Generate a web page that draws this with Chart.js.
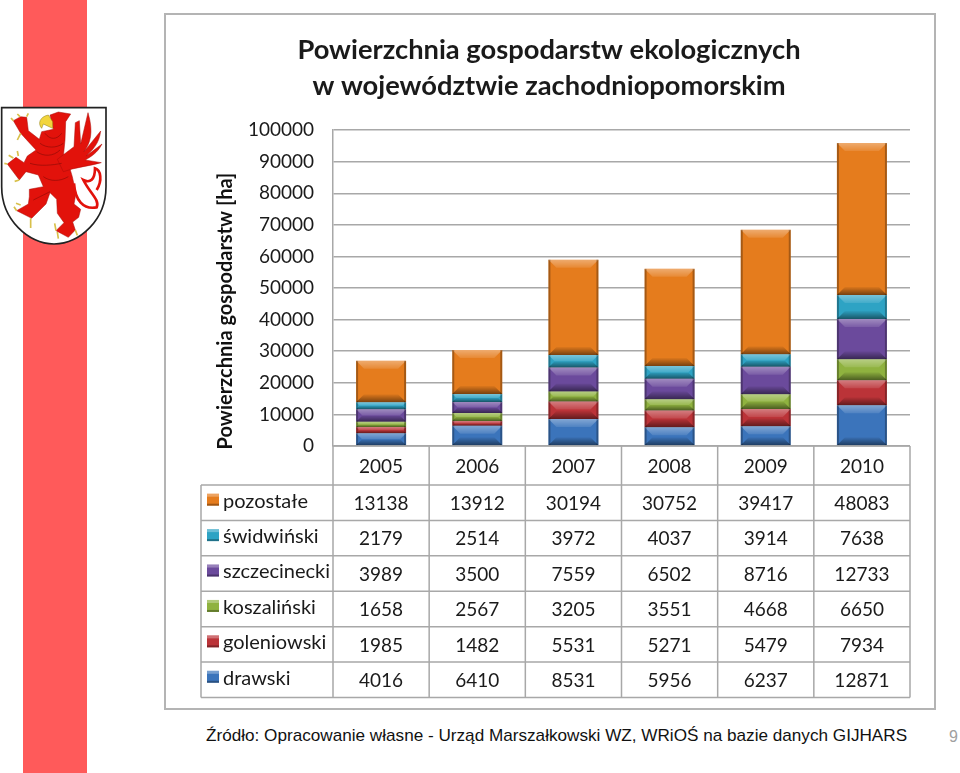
<!DOCTYPE html>
<html>
<head>
<meta charset="utf-8">
<script src="https://cdn.jsdelivr.net/npm/chart.js@4/dist/chart.umd.min.js"></script>
<style>
  html, body { margin: 0; padding: 0; background: #fff; }
  #page { position: relative; width: 960px; height: 773px; overflow: hidden; }
  #stripe { position: absolute; left: 23px; top: 0; width: 64px; height: 773px; background: #ff5a5a; }
  #herb { position: absolute; left: 0; top: 0; }
  #frame { position: absolute; left: 164px; top: 13px; width: 768px; height: 693px; border: 2px solid #b4b4b4; }
  #ecoChart { position: absolute; left: 166px; top: 15px; }
  #source { position: absolute; left: 206px; top: 725px; font: 17.15px "Liberation Sans", sans-serif; color: #111; white-space: nowrap; }
  #pageNo { position: absolute; left: 949px; top: 728px; font: 16px "Liberation Sans", sans-serif; color: #a0a0a0; }
</style>
</head>
<body>
<div id="page">
  <div id="stripe"></div>
  <svg id="herb" width="340" height="300" viewBox="0 0 1020 900">
    <path d="M5,323 H318 V560 C318,660 240,730 162,732 C85,730 5,660 5,560 Z" fill="#fff" stroke="#222" stroke-width="5"/>
    <g fill="#e2120b" stroke="#a80c08" stroke-width="1.5">
      <path d="M150,345 L175,336 L212,342 L197,365 L195,420 L190,470 L205,490 L217,530 L228,580 L222,612 L242,628 L236,652 L218,666 L226,690 L205,712 L168,692 L192,668 L172,640 L170,598 L150,578 L138,612 L95,655 L50,632 L85,612 L88,590 L88,568 L130,560 L115,525 L78,515 L58,540 L22,492 L48,472 L72,488 L82,468 L108,450 L85,425 L62,400 L40,362 L62,350 L80,352 L85,392 L118,418 L125,395 L160,388 Z"/>
      <path d="M172,478 L222,440 L226,368 L238,362 L242,432 L264,338 C282,400 270,430 252,455 L302,393 C298,430 278,450 258,468 L306,432 C292,460 272,470 256,480 L304,488 C270,498 225,502 190,515 Z"/>
    </g>
    <path fill="none" stroke="#e2120b" stroke-width="8" d="M222,550 C225,600 250,630 290,622 C300,600 270,580 250,540 C270,550 285,540 285,505 C302,510 308,540 290,570"/>
    <g fill="none" stroke="#8e0a06" stroke-width="2">
      <path d="M110,455 C130,470 160,470 180,450 M90,490 C120,500 160,495 185,490 M130,530 C150,545 180,545 205,530 M100,600 C120,590 140,580 150,575"/>
      <path d="M135,400 C150,420 170,420 185,400 M120,430 C140,445 170,445 190,430"/>
    </g>
    <path fill="#f2d53c" stroke="#8a7a10" stroke-width="1.5" d="M145,345 C120,350 112,370 125,385 L130,372 L158,385 L158,365 Z"/>
    <g fill="none" stroke="#d8c04a" stroke-width="5">
      <path d="M40,362 L33,354 M60,350 L52,342 M80,350 L85,340 M62,400 L52,420"/>
      <path d="M22,492 L13,490 M40,474 L26,466 M55,468 L52,453 M58,540 L44,544"/>
      <path d="M50,632 L42,620 M62,615 L48,610 M92,655 L92,684"/>
      <path d="M168,692 L164,670 M172,696 L175,716 M226,690 L232,706"/>
    </g>
  </svg>
  <div id="frame"></div>
  <canvas id="ecoChart" width="768" height="693"></canvas>
  <div id="source">Źródło: Opracowanie własne - Urząd Marszałkowski WZ, WRiOŚ na bazie danych GIJHARS</div>
  <div id="pageNo">9</div>
</div>
<script>
const years = ['2005', '2006', '2007', '2008', '2009', '2010'];

const drawski     = [4016, 6410, 8531, 5956, 6237, 12871];
const goleniowski = [1985, 1482, 5531, 5271, 5479, 7934];
const koszalinski = [1658, 2567, 3205, 3551, 4668, 6650];
const szczecinecki = [3989, 3500, 7559, 6502, 8716, 12733];
const swidwinski  = [2179, 2514, 3972, 4037, 3914, 7638];
const pozostale   = [13138, 13912, 30194, 30752, 39417, 48083];

const gridColor = '#a8a8a8';
const textFont = 'Lato, sans-serif';

// od dolu do gory, tabela rysowana w odwrotnej kolejnosci
const series = [
  { label: 'drawski', data: drawski, color: '#3b74bb' },
  { label: 'goleniowski', data: goleniowski, color: '#bb3338' },
  { label: 'koszaliński', data: koszalinski, color: '#8fb23f' },
  { label: 'szczecinecki', data: szczecinecki, color: '#6b4a9c' },
  { label: 'świdwiński', data: swidwinski, color: '#2ea3c4' },
  { label: 'pozostałe', data: pozostale, color: '#e57c1d' }
];

function bevel(c, x, y, w, h) {
  const size = Math.min(8, h / 2);
  let g = c.createLinearGradient(0, y, 0, y + size);
  g.addColorStop(0, 'rgba(255,255,255,0.36)');
  g.addColorStop(1, 'rgba(255,255,255,0.1)');
  c.fillStyle = g;
  c.beginPath();
  c.moveTo(x, y);
  c.lineTo(x + w, y);
  c.lineTo(x + w - size, y + size);
  c.lineTo(x + size, y + size);
  c.fill();
  g = c.createLinearGradient(0, y + h - size, 0, y + h);
  g.addColorStop(0, 'rgba(0,0,0,0.04)');
  g.addColorStop(1, 'rgba(0,0,0,0.48)');
  c.fillStyle = g;
  c.beginPath();
  c.moveTo(x, y + h);
  c.lineTo(x + w, y + h);
  c.lineTo(x + w - size, y + h - size);
  c.lineTo(x + size, y + h - size);
  c.fill();
  c.fillStyle = 'rgba(0,0,0,0.28)';
  c.fillRect(x, y, 2, h);
  c.fillRect(x + w - 2, y, 2, h);
}

const bevelPlugin = {
  id: 'bevel',
  afterDatasetsDraw(chart) {
    const c = chart.ctx;
    chart.data.datasets.forEach((ds, i) => {
      chart.getDatasetMeta(i).data.forEach(bar => {
        const w = bar.width;
        bevel(c, bar.x - w / 2, bar.y, w, bar.base - bar.y);
      });
    });
  }
};

const tablePlugin = {
  id: 'dataTable',
  afterDraw(chart) {
    const c = chart.ctx;
    const xs = chart.scales.x;
    const area = chart.chartArea;
    const colW = xs.getPixelForTick(1) - xs.getPixelForTick(0);
    const headTop = area.bottom;
    const firstRow = headTop + 39;
    const rowH = (682.5 - firstRow) / series.length;
    const tableLeft = 35;

    c.save();
    c.strokeStyle = gridColor;
    c.lineWidth = 1.5;
    c.beginPath();
    c.moveTo(area.left, headTop);
    c.lineTo(area.right, headTop);
    for (let r = 0; r <= series.length; r++) {
      const y = firstRow + r * rowH;
      c.moveTo(tableLeft, y);
      c.lineTo(area.right, y);
    }
    c.moveTo(tableLeft, firstRow);
    c.lineTo(tableLeft, firstRow + series.length * rowH);
    for (let k = 0; k <= years.length; k++) {
      const x = area.left + k * colW;
      c.moveTo(x, headTop);
      c.lineTo(x, firstRow + series.length * rowH);
    }
    c.stroke();

    c.textBaseline = 'middle';
    series.slice().reverse().forEach((s, r) => {
      const mid = firstRow + r * rowH + rowH / 2;
      c.fillStyle = s.color;
      c.fillRect(41, mid - 9, 12, 12);
      c.fillStyle = 'rgba(255,255,255,0.3)';
      c.fillRect(41, mid - 9, 12, 3);
      c.fillStyle = 'rgba(0,0,0,0.3)';
      c.fillRect(41, mid + 1, 12, 2);
      c.fillStyle = '#1a1a1a';
      c.textAlign = 'left';
      c.font = '20px ' + textFont;
      c.fillText(s.label, 57, mid - 1.5);
      c.textAlign = 'center';
      c.font = '19px ' + textFont;
      s.data.forEach((v, k) => c.fillText(String(v), xs.getPixelForTick(k), mid + 1));
    });

    // tytul osi Y schodzi ponizej osi, wiec nie scale.title
    c.translate(60, 296);
    c.rotate(-Math.PI / 2);
    c.textAlign = 'center';
    c.fillStyle = '#111';
    c.font = 'bold 20px ' + textFont;
    c.fillText('Powierzchnia gospodarstw [ha]', 0, 0);
    c.restore();
  }
};

new Chart(document.getElementById('ecoChart').getContext('2d'), {
  type: 'bar',
  data: {
    labels: years,
    datasets: series.map(s => ({
      label: s.label,
      data: s.data,
      backgroundColor: s.color,
      barPercentage: 0.52,
      categoryPercentage: 1
    }))
  },
  options: {
    responsive: false,
    animation: false,
    layout: { padding: { left: 22, right: 24, top: 0, bottom: 0 } },
    scales: {
      x: {
        stacked: true,
        grid: { display: false },
        border: { display: false },
        ticks: { color: '#1a1a1a', font: { family: textFont, size: 19 }, padding: 1, maxRotation: 0 },
        afterFit(scale) { scale.height = 262; }
      },
      y: {
        stacked: true,
        min: 0,
        max: 100000,
        grid: { color: gridColor, lineWidth: 1.5, drawTicks: false },
        border: { color: gridColor, width: 1.5 },
        ticks: {
          stepSize: 10000,
          color: '#1a1a1a',
          font: { family: textFont, size: 19 },
          padding: 19,
          callback: v => String(v)
        },
        afterFit(scale) { scale.width = 145; }
      }
    },
    plugins: {
      legend: { display: false },
      tooltip: { enabled: false },
      title: {
        display: true,
        text: ['Powierzchnia gospodarstw ekologicznych', 'w województwie zachodniopomorskim'],
        color: '#1a1a1a',
        font: { family: textFont, size: 27.3, weight: 'bold', lineHeight: 1.32 },
        padding: { top: 17, bottom: 26 }
      }
    }
  },
  plugins: [bevelPlugin, tablePlugin]
});
</script>
</body>
</html>
